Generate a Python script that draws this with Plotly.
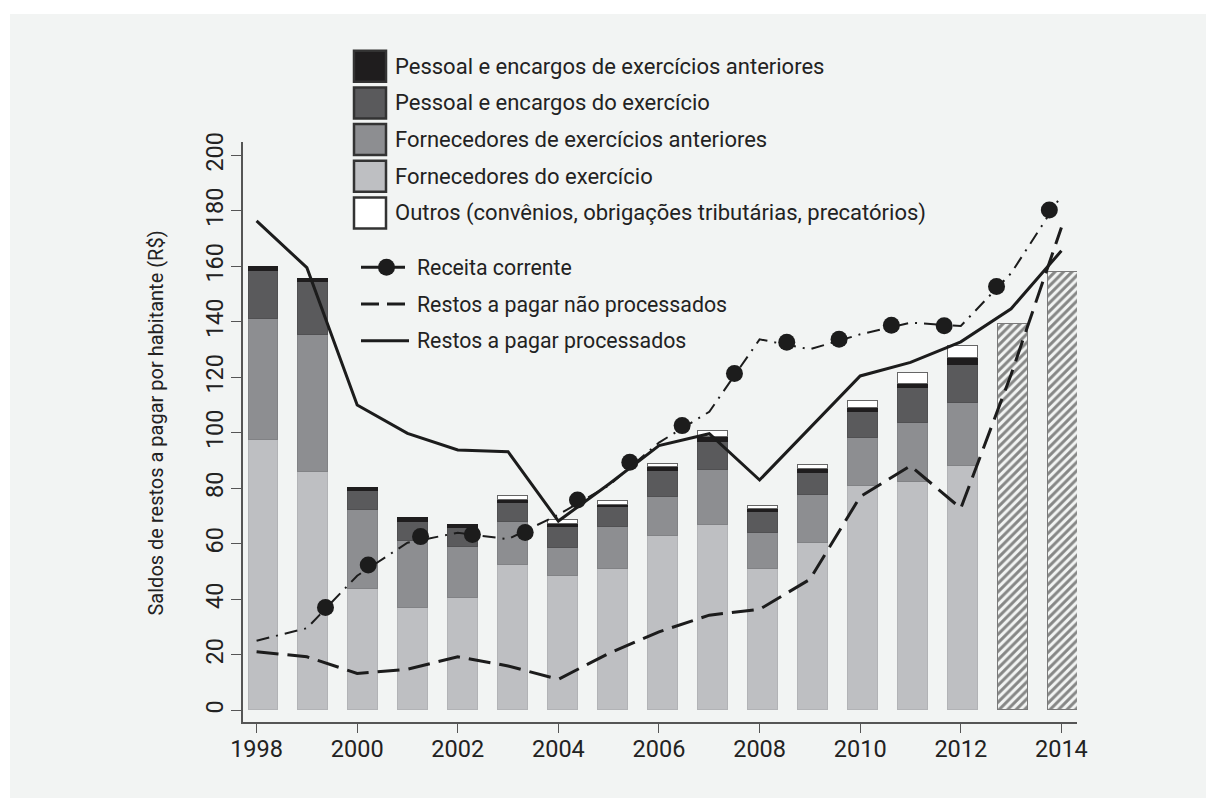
import plotly.graph_objects as go

# ----------------------------------------------------------
# Dados (R$ por habitante)
# ----------------------------------------------------------
anos = list(range(1998, 2015))
anos_barras = list(range(1998, 2013))
anos_projetados = [2013, 2014]

fornecedores_exercicio = [97.4, 86.0, 43.7, 36.8, 40.6, 52.4, 48.4, 50.8, 62.8, 66.8, 50.8, 60.2, 80.9, 82.2, 88.1]
fornecedores_anteriores = [43.5, 49.2, 28.5, 24.2, 18.4, 15.3, 10.2, 15.4, 14.0, 19.8, 13.2, 17.4, 17.1, 21.2, 22.5]
pessoal_exercicio = [17.5, 19.3, 6.8, 6.7, 6.6, 7.1, 7.4, 7.2, 9.3, 10.2, 7.5, 7.8, 9.5, 12.9, 13.8]
pessoal_anteriores = [1.2, 0.9, 1.2, 1.7, 1.2, 1.0, 1.0, 0.7, 1.5, 1.7, 1.0, 1.6, 1.5, 1.2, 2.7]
outros = [0.0, 0.0, 0.0, 0.0, 0.0, 1.4, 1.6, 1.4, 1.2, 2.1, 1.2, 1.4, 2.5, 3.9, 4.3]
totais_projetados = [139.2, 157.8]

receita_linha = [25.1, 29.6, 48.5, 60.4, 64.0, 61.7, 70.5, 81.0, 96.5, 107.6,
                 133.7, 130.1, 135.5, 139.7, 138.5, 157.5, 185.5]
receita_pontos_ano = [1999.37, 2000.22, 2001.26, 2002.29, 2003.34, 2004.38, 2005.42, 2006.46,
                      2007.50, 2008.54, 2009.58, 2010.62, 2011.67, 2012.71, 2013.76]
receita_pontos = [37.1, 52.4, 62.6, 63.4, 64.1, 75.8, 89.4, 102.6, 121.4, 132.6,
                  133.7, 138.8, 138.6, 152.7, 180.3]
nao_processados = [21.1, 19.3, 13.3, 14.8, 19.3, 16.0, 11.2, 20.5, 28.3, 34.3,
                   36.4, 47.2, 77.0, 88.1, 72.8, 121.0, 174.0]
processados = [176.4, 159.5, 110.0, 99.8, 93.8, 93.2, 68.2, 81.5, 95.4, 99.7,
               83.0, 101.6, 120.5, 125.4, 132.8, 144.7, 165.6]

# ----------------------------------------------------------
# Estilo
# ----------------------------------------------------------
FONT = "Roboto, sans-serif"
BG = "#f2f4f3"
INK = "#1c1c1c"
TXT = "#222222"
AXIS = "#555555"

W, H = 1206, 798
# área do gráfico, em pixels da página
X0, X1, Y0, Y1 = 243, 1077, 142, 722


def px(x):
    return (x - X0) / (X1 - X0)


def py(y):
    return (Y1 - y) / (Y1 - Y0)


series_barras = [
    ("Fornecedores do exercício", fornecedores_exercicio, "#bebfc2", "#b2b3b6"),
    ("Fornecedores de exercícios anteriores", fornecedores_anteriores, "#8d8e91", "#818285"),
    ("Pessoal e encargos do exercício", pessoal_exercicio, "#5a5a5c", "#505052"),
    ("Pessoal e encargos de exercícios anteriores", pessoal_anteriores, "#1f1d1e", "#1f1d1e"),
    ("Outros (convênios, obrigações tributárias, precatórios)", outros, "#ffffff", "#666666"),
]
ordem_legenda = [3, 2, 1, 0, 4]

fig = go.Figure()

# barras empilhadas (eixo x de base, escondido)
for nome, valores, cor, borda in series_barras:
    fig.add_trace(go.Bar(
        x=anos_barras,
        y=[v if v > 0 else None for v in valores],
        name=nome,
        width=0.6,
        marker=dict(color=cor, line=dict(color=borda, width=1)),
        xaxis="x", yaxis="y",
    ))

# barras projetadas hachuradas
fig.add_trace(go.Bar(
    x=anos_projetados,
    y=totais_projetados,
    name="Projeção",
    width=0.6,
    marker=dict(
        color=BG,
        line=dict(color="#7a7a7a", width=1.5),
        pattern=dict(shape="/", fgcolor="#1a1a1a", bgcolor=BG, size=6, solidity=0.5),
    ),
    xaxis="x", yaxis="y",
))

# linhas (eixo x2 com os anos)
fig.add_trace(go.Scatter(
    x=anos, y=receita_linha, mode="lines", name="Receita corrente",
    line=dict(color=INK, width=2, dash="13px,7px,2px,7px"),
    xaxis="x2", yaxis="y",
))
fig.add_trace(go.Scatter(
    x=receita_pontos_ano, y=receita_pontos, mode="markers", name="Receita corrente (pontos)",
    marker=dict(color=INK, size=17),
    xaxis="x2", yaxis="y",
))
fig.add_trace(go.Scatter(
    x=anos, y=nao_processados, mode="lines", name="Restos a pagar não processados",
    line=dict(color=INK, width=3, dash="22px,9px"),
    xaxis="x2", yaxis="y",
))
fig.add_trace(go.Scatter(
    x=anos, y=processados, mode="lines", name="Restos a pagar processados",
    line=dict(color=INK, width=3),
    xaxis="x2", yaxis="y",
))

# ----------------------------------------------------------
# Legenda desenhada à mão
# ----------------------------------------------------------
shapes = []
annotations = []

# bordas brancas do quadro (esquerda e topo)
shapes.append(dict(type="rect", xref="paper", yref="paper", layer="above",
                   x0=px(-5), x1=px(10), y0=py(H + 5), y1=py(-5),
                   fillcolor="white", line=dict(width=0)))
shapes.append(dict(type="rect", xref="paper", yref="paper", layer="above",
                   x0=px(-5), x1=px(W + 5), y0=py(14), y1=py(-5),
                   fillcolor="white", line=dict(width=0)))

for i, idx in enumerate(ordem_legenda):
    nome, _, cor, _ = series_barras[idx]
    yc = 66.2 + i * 36.7
    shapes.append(dict(type="rect", xref="paper", yref="paper",
                       x0=px(354), x1=px(386), y0=py(yc + 15.5), y1=py(yc - 15.5),
                       fillcolor=cor, line=dict(color="#333333", width=2.5)))
    annotations.append(dict(xref="paper", yref="paper", x=px(393), y=py(yc),
                            text=nome, showarrow=False, xanchor="left", yanchor="middle",
                            font=dict(family=FONT, size=22, color=TXT)))

itens_linhas = [
    ("Receita corrente", "ponto"),
    ("Restos a pagar não processados", "tracejado"),
    ("Restos a pagar processados", "continuo"),
]
for i, (nome, tipo) in enumerate(itens_linhas):
    yc = 267.3 + i * 36.7
    if tipo == "ponto":
        shapes.append(dict(type="line", xref="paper", yref="paper",
                           x0=px(361), x1=px(405), y0=py(yc), y1=py(yc),
                           line=dict(color=INK, width=3)))
        shapes.append(dict(type="circle", xref="paper", yref="paper",
                           x0=px(378), x1=px(395), y0=py(yc + 8.5), y1=py(yc - 8.5),
                           fillcolor=INK, line=dict(color=INK, width=0)))
    elif tipo == "tracejado":
        shapes.append(dict(type="line", xref="paper", yref="paper",
                           x0=px(361), x1=px(405), y0=py(yc), y1=py(yc),
                           line=dict(color=INK, width=3, dash="18px,8px")))
    else:
        shapes.append(dict(type="line", xref="paper", yref="paper",
                           x0=px(361), x1=px(409), y0=py(yc), y1=py(yc),
                           line=dict(color=INK, width=3)))
    annotations.append(dict(xref="paper", yref="paper", x=px(415), y=py(yc),
                            text=nome, showarrow=False, xanchor="left", yanchor="middle",
                            font=dict(family=FONT, size=21.3, color=TXT)))

# título do eixo y
annotations.append(dict(xref="paper", yref="paper", x=px(155), y=py(423.5),
                        text="Saldos de restos a pagar por habitante (R$)",
                        textangle=-90, showarrow=False,
                        xanchor="center", yanchor="middle",
                        font=dict(family=FONT, size=20, color=TXT)))

# ----------------------------------------------------------
# Layout
# ----------------------------------------------------------
fig.update_layout(
    width=W, height=H,
    margin=dict(l=X0, r=W - X1, t=Y0, b=H - Y1),
    paper_bgcolor=BG,
    plot_bgcolor=BG,
    barmode="stack",
    bargap=0,
    showlegend=False,
    font=dict(family=FONT, color=TXT),
    shapes=shapes,
    annotations=annotations,
    xaxis=dict(
        range=[1997.59, 2014.28],
        visible=False,
        fixedrange=True,
    ),
    xaxis2=dict(
        overlaying="x",
        anchor="y",
        side="bottom",
        range=[1997.73, 2014.31],
        tickvals=list(range(1998, 2015, 2)),
        ticks="outside", ticklen=9, tickwidth=1.3, tickcolor=AXIS,
        ticklabelstandoff=-4,
        showline=True, linecolor=AXIS, linewidth=1.5,
        showgrid=False, zeroline=False,
        tickfont=dict(family=FONT, size=23.5, color=TXT),
    ),
    yaxis=dict(
        range=[-4.2, 204.8],
        tickvals=list(range(0, 201, 20)),
        tickangle=-90,
        ticks="outside", ticklen=10, tickwidth=1.3, tickcolor=AXIS,
        ticklabelstandoff=-1,
        showline=True, linecolor=AXIS, linewidth=1.5,
        showgrid=False, zeroline=False,
        tickfont=dict(family=FONT, size=23.5, color=TXT),
    ),
)

# sem margem nem barras de rolagem na página, para o quadro ocupar a janela toda
fig.write_html(
    "out.html",
    config={"displayModeBar": False},
    post_script="document.body.style.margin='0';"
                "document.documentElement.style.overflow='hidden';"
                "document.body.style.overflow='hidden';",
)
